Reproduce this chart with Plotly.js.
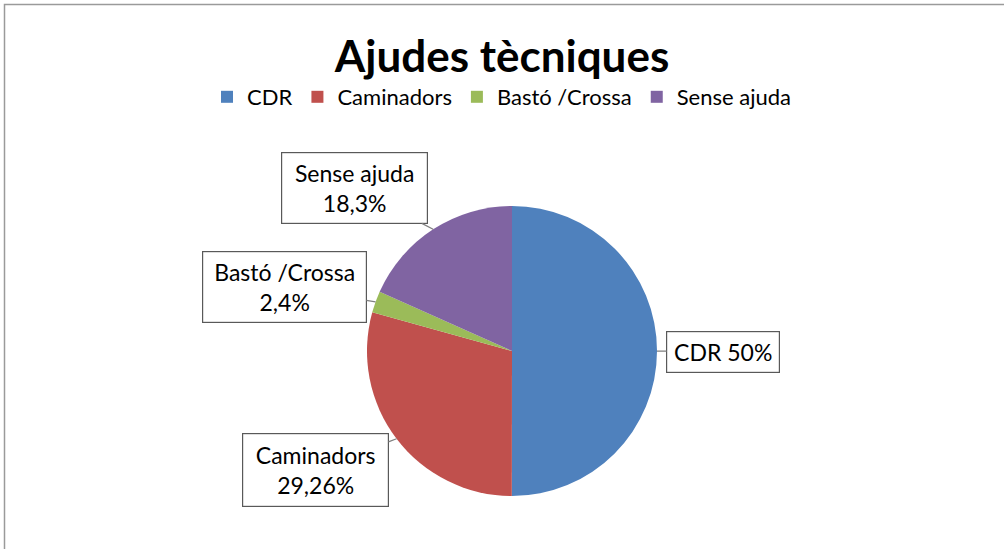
<!DOCTYPE html>
<html>
<head>
<meta charset="utf-8">
<script src="https://cdn.plot.ly/plotly-3.0.1.min.js"></script>
<style>html,body{margin:0;padding:0;background:#fff;}#chart{width:1004px;height:549px;}</style>
</head>
<body>
<div id="chart"></div>
<script>
// Data
const categories = ["CDR", "Caminadors", "Bastó /Crossa", "Sense ajuda"];
const values = [50, 29.26, 2.4, 18.3];
const valueLabels = ["50%", "29,26%", "2,4%", "18,3%"];
const colors = ["#4F81BD", "#C0504D", "#9BBB59", "#8064A2"];

const W = 1004, H = 549;
const cx = 512, cy = 351, R = 145;
const dom = {
  x: [(cx - R) / W, (cx + R) / W],
  y: [1 - (cy + R) / H, 1 - (cy - R) / H]
};
const FONT = "Lato, 'Open Sans', sans-serif";

// label box centres (pixels) and sizes
const boxes = [
  {cx: 723, cy: 351.5, w: 112, h: 40, text: categories[0] + " " + valueLabels[0]},
  {cx: 315.5, cy: 470, w: 145, h: 72, text: categories[1] + "<br>" + valueLabels[1]},
  {cx: 284.5, cy: 287, w: 163, h: 70, text: categories[2] + "<br>" + valueLabels[2]},
  {cx: 354.5, cy: 188, w: 145, h: 70, text: categories[3] + "<br>" + valueLabels[3]}
];

const total = values.reduce((a, b) => a + b, 0);
let cum = 0;
const annotations = values.map((v, i) => {
  const mid = (cum + v / 2) / total * 2 * Math.PI; // clockwise from 12 o'clock
  cum += v;
  const tx = cx + R * Math.sin(mid);
  const ty = cy - R * Math.cos(mid);
  const b = boxes[i];
  return {
    x: tx / W, y: 1 - ty / H, xref: "paper", yref: "paper",
    ax: b.cx - tx, ay: b.cy - ty,
    showarrow: true, arrowhead: 0, arrowwidth: 1.2, arrowcolor: "#7F7F7F",
    text: b.text, align: "center",
    font: {family: FONT, size: 23, color: "#000"},
    bgcolor: "#fff", bordercolor: "#595959", borderwidth: 1.2, borderpad: 0,
    width: b.w, height: b.h
  };
});

const trace = {
  type: "pie",
  labels: categories,
  values: values,
  sort: false,
  direction: "clockwise",
  rotation: 0,
  marker: {colors: colors, line: {width: 0}},
  textinfo: "none",
  hoverinfo: "label+percent",
  domain: dom
};

const layout = {
  width: W, height: H,
  margin: {l: 0, r: 0, t: 0, b: 0},
  paper_bgcolor: "#fff",
  title: {
    text: "<b>Ajudes tècniques</b>",
    x: 0.5, xanchor: "center", y: 1 - 57 / H, yanchor: "middle",
    font: {family: FONT, size: 44, color: "#000"}
  },
  showlegend: true,
  legend: {
    orientation: "h", x: 0.5, xanchor: "center", y: 1 - 97 / H, yanchor: "middle",
    font: {family: FONT, size: 22, color: "#000"},
    itemwidth: 30, tracegroupgap: 0
  },
  annotations: annotations,
  shapes: [{
    type: "rect", xref: "paper", yref: "paper",
    x0: 4.5 / W, x1: 1.02, y0: -0.02, y1: 1 - 4.5 / H,
    line: {color: "#9A9A9A", width: 1.5}, fillcolor: "rgba(0,0,0,0)"
  }]
};

Plotly.newPlot("chart", [trace], layout, {displayModeBar: false, staticPlot: true});
</script>
</body>
</html>
